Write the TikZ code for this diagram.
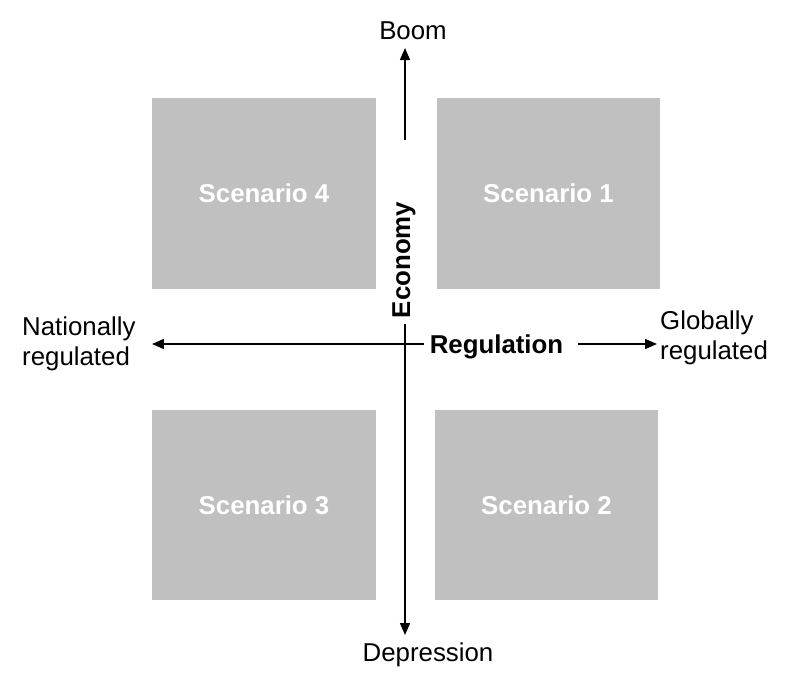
\documentclass[tikz,border=0pt]{standalone}
\usepackage{fontspec}
\setmainfont{Liberation Sans}
\usetikzlibrary{arrows.meta}
\definecolor{boxgray}{RGB}{192,192,192}
\begin{document}
\begin{tikzpicture}[x=0.02cm, y=-0.02cm,
		font=\fontsize{14.7}{17.4}\selectfont,
		scen/.style={fill=boxgray, text=white, font=\fontsize{14.7}{17.4}\selectfont\bfseries, minimum height=3.82cm},
		axis/.style={-{Triangle[length=0.24cm, width=0.2cm]}, line width=0.8pt}
		]
	\useasboundingbox (0,0) rectangle (802,700);
	% the four scenarios
	\node [scen, minimum width=4.48cm] (s4) at (264,193.5) {Scenario 4};
	\node [scen, minimum width=4.46cm] (s1) at (548.5,193.5) {Scenario 1};
	\node [scen, minimum width=4.48cm] (s3) at (264,505) {Scenario 3};
	\node [scen, minimum width=4.46cm] (s2) at (546.5,505) {Scenario 2};
	% axis labels
	\node (boom) at (413,30.5) {Boom};
	\node (depr) at (428,655) {Depression};
	\node [rotate=90, font=\fontsize{14.7}{17.4}\selectfont\bfseries] (econ) at (404,260) {Economy};
	\node [font=\fontsize{14.7}{17.4}\selectfont\bfseries] (reg) at (496.5,346.5) {Regulation};
	\node [anchor=west, align=left] (nat) at (16,344) {Nationally\\regulated};
	\node [anchor=west, align=left] (glob) at (654,338) {Globally\\regulated};
	% axes
	\coordinate (ntip) at (405,48);
	\coordinate (nbase) at (405,140);
	\coordinate (stip) at (405,635);
	\coordinate (wtip) at (152,344);
	\coordinate (etip) at (657,344);
	\draw [axis] (nbase) -- (ntip);
	\draw [axis] (stip |- econ.west) -- (stip);
	\draw [axis] (reg.west |- wtip) -- (wtip);
	\draw [axis, shorten <=0.18cm] (reg.east |- etip) -- (etip);
\end{tikzpicture}
\end{document}
